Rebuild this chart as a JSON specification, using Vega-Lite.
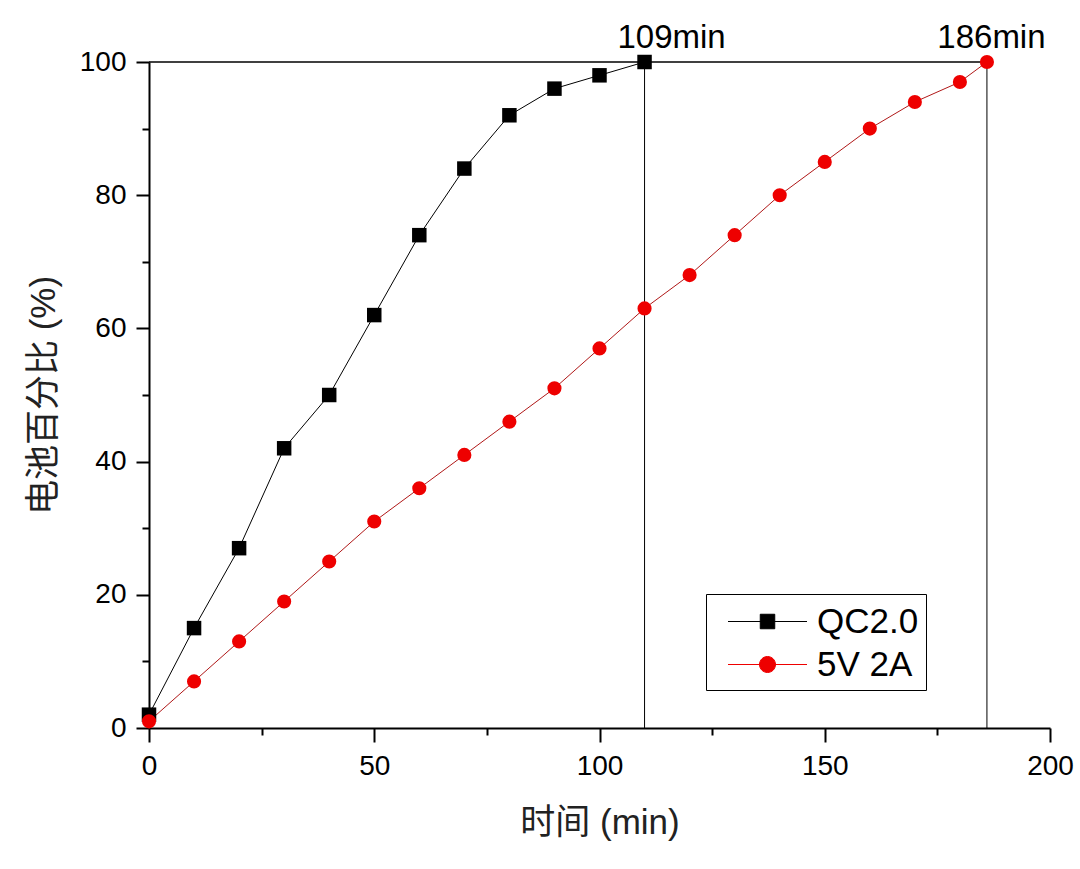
{
  "$schema": "https://vega.github.io/schema/vega-lite/v6.json",
  "width": 901,
  "height": 666,
  "autosize": "none",
  "padding": {"left": 149, "top": 62, "right": 30, "bottom": 141},
  "background": "white",
  "config": {
    "view": {"stroke": null},
    "font": "Liberation Sans, Noto Sans CJK SC",
    "axis": {
      "grid": false,
      "domainColor": "black",
      "domainWidth": 2,
      "tickColor": "black",
      "tickWidth": 2,
      "labelColor": "black",
      "labelFontSize": 28,
      "labelFont": "Liberation Sans",
      "labelFlush": false,
      "titleColor": "#222222",
      "titleFontSize": 35,
      "titleFontWeight": "normal",
      "titleFont": "Liberation Sans, Noto Sans CJK SC"
    }
  },
  "datasets": {
    "charge": [
      {"min": 0, "pct": 2, "series": "QC2.0"},
      {"min": 10, "pct": 15, "series": "QC2.0"},
      {"min": 20, "pct": 27, "series": "QC2.0"},
      {"min": 30, "pct": 42, "series": "QC2.0"},
      {"min": 40, "pct": 50, "series": "QC2.0"},
      {"min": 50, "pct": 62, "series": "QC2.0"},
      {"min": 60, "pct": 74, "series": "QC2.0"},
      {"min": 70, "pct": 84, "series": "QC2.0"},
      {"min": 80, "pct": 92, "series": "QC2.0"},
      {"min": 90, "pct": 96, "series": "QC2.0"},
      {"min": 100, "pct": 98, "series": "QC2.0"},
      {"min": 110, "pct": 100, "series": "QC2.0"},
      {"min": 0, "pct": 1, "series": "5V 2A"},
      {"min": 10, "pct": 7, "series": "5V 2A"},
      {"min": 20, "pct": 13, "series": "5V 2A"},
      {"min": 30, "pct": 19, "series": "5V 2A"},
      {"min": 40, "pct": 25, "series": "5V 2A"},
      {"min": 50, "pct": 31, "series": "5V 2A"},
      {"min": 60, "pct": 36, "series": "5V 2A"},
      {"min": 70, "pct": 41, "series": "5V 2A"},
      {"min": 80, "pct": 46, "series": "5V 2A"},
      {"min": 90, "pct": 51, "series": "5V 2A"},
      {"min": 100, "pct": 57, "series": "5V 2A"},
      {"min": 110, "pct": 63, "series": "5V 2A"},
      {"min": 120, "pct": 68, "series": "5V 2A"},
      {"min": 130, "pct": 74, "series": "5V 2A"},
      {"min": 140, "pct": 80, "series": "5V 2A"},
      {"min": 150, "pct": 85, "series": "5V 2A"},
      {"min": 160, "pct": 90, "series": "5V 2A"},
      {"min": 170, "pct": 94, "series": "5V 2A"},
      {"min": 180, "pct": 97, "series": "5V 2A"},
      {"min": 186, "pct": 100, "series": "5V 2A"}
    ],
    "guides": [
      {"min": 110, "label": "109min", "labelAt": 116},
      {"min": 186, "label": "186min", "labelAt": 187}
    ]
  },
  "layer": [
    {
      "data": {"name": "guides"},
      "mark": {"type": "rule", "color": "black", "strokeWidth": 1},
      "encoding": {
        "x": {
          "field": "min",
          "type": "quantitative",
          "scale": {"domain": [0, 200], "nice": false},
          "axis": {
            "values": [0, 25, 50, 75, 100, 125, 150, 175, 200],
            "labelExpr": "datum.value % 50 === 0 ? datum.label : ''",
            "tickSize": {"condition": {"test": "datum.value % 50 === 0", "value": 14}, "value": 7},
            "labelPadding": 10,
            "title": "时间 (min)",
            "titlePadding": 25
          }
        },
        "y": {
          "datum": 0,
          "type": "quantitative",
          "scale": {"domain": [0, 100], "nice": false},
          "axis": {
            "values": [0, 10, 20, 30, 40, 50, 60, 70, 80, 90, 100],
            "labelExpr": "datum.value % 20 === 0 ? datum.label : ''",
            "tickSize": {"condition": {"test": "datum.value % 20 === 0", "value": 13}, "value": 7},
            "labelPadding": 10,
            "title": "电池百分比 (%)",
            "titlePadding": 18
          }
        },
        "y2": {"datum": 100}
      }
    },
    {
      "data": {"name": "guides"},
      "transform": [{"filter": "datum.min === 186"}],
      "mark": {"type": "rule", "color": "black", "strokeWidth": 1.5},
      "encoding": {
        "x": {"datum": 0, "type": "quantitative"},
        "x2": {"datum": 186},
        "y": {"datum": 100, "type": "quantitative"}
      }
    },
    {
      "data": {"name": "guides"},
      "mark": {"type": "text", "fontSize": 33, "color": "black", "baseline": "alphabetic", "dy": -14, "font": "Liberation Sans"},
      "encoding": {
        "x": {"field": "labelAt", "type": "quantitative"},
        "y": {"datum": 100, "type": "quantitative"},
        "text": {"field": "label"}
      }
    },
    {
      "data": {"name": "charge"},
      "transform": [{"filter": "datum.series === 'QC2.0'"}],
      "mark": {"type": "line", "strokeWidth": 1, "color": "black"},
      "encoding": {
        "x": {"field": "min", "type": "quantitative"},
        "y": {"field": "pct", "type": "quantitative"}
      }
    },
    {
      "data": {"name": "charge"},
      "transform": [{"filter": "datum.series === '5V 2A'"}],
      "mark": {"type": "line", "strokeWidth": 1, "color": "#b01818"},
      "encoding": {
        "x": {"field": "min", "type": "quantitative"},
        "y": {"field": "pct", "type": "quantitative"}
      }
    },
    {
      "data": {"name": "charge"},
      "transform": [{"filter": "datum.series === 'QC2.0'"}],
      "mark": {"type": "point", "shape": "square", "filled": true, "size": 210, "color": "black", "opacity": 1},
      "encoding": {
        "x": {"field": "min", "type": "quantitative"},
        "y": {"field": "pct", "type": "quantitative"}
      }
    },
    {
      "data": {"name": "charge"},
      "transform": [{"filter": "datum.series === '5V 2A'"}],
      "mark": {"type": "point", "shape": "circle", "filled": true, "size": 200, "color": "#ee0000", "opacity": 1},
      "encoding": {
        "x": {"field": "min", "type": "quantitative"},
        "y": {"field": "pct", "type": "quantitative"}
      }
    },
    {
      "data": {"name": "charge"},
      "transform": [{"filter": "datum.min < 0"}],
      "mark": {"type": "point", "filled": true, "strokeWidth": 1, "opacity": 1},
      "encoding": {
        "x": {"field": "min", "type": "quantitative"},
        "y": {"field": "pct", "type": "quantitative"},
        "fill": {
          "field": "series",
          "type": "nominal",
          "scale": {"domain": ["QC2.0", "5V 2A"], "range": ["#000000", "#ee0000"]},
          "legend": {
            "orient": "none",
            "legendX": 557,
            "legendY": 532,
            "title": null,
            "strokeColor": "black",
            "fillColor": "white",
            "padding": 7,
            "labelFontSize": 35,
            "labelColor": "black",
            "labelFont": "Liberation Sans",
            "labelOffset": 29,
            "symbolOffset": 34,
            "rowPadding": 4,
            "symbolSize": 1600,
            "symbolStrokeWidth": 1,
            "symbolOpacity": 1,
            "encode": {
              "symbols": {
                "update": {
                  "stroke": {"scale": "fill", "field": "value"},
                  "strokeWidth": {"value": 1},
                  "opacity": {"value": 1}
                }
              }
            }
          }
        },
        "shape": {
          "field": "series",
          "type": "nominal",
          "scale": {
            "domain": ["QC2.0", "5V 2A"],
            "range": [
              "M-1.975,0H1.975M-0.3625,-0.3625H0.3625V0.3625H-0.3625Z",
              "M-1.975,0H1.975M-0.4,0A0.4,0.4,0,1,0,0.4,0A0.4,0.4,0,1,0,-0.4,0Z"
            ]
          }
        }
      }
    }
  ]
}
